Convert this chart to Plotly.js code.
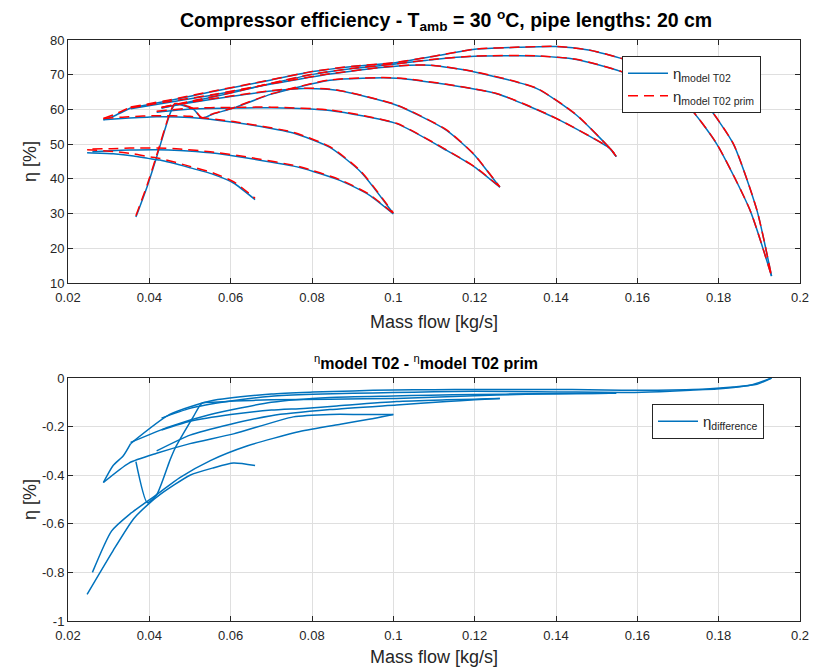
<!DOCTYPE html>
<html>
<head>
<meta charset="utf-8">
<script src="https://cdn.plot.ly/plotly-3.0.1.min.js"></script>
<style>html,body{margin:0;padding:0;background:#fff;}</style>
</head>
<body>
<div id="chart" style="width:817px;height:669px;"></div>
<script>
// ---- Data (mass flow [kg/s], efficiency [%], difference [%]) ----
const x_I   = [0.0247,0.0311,0.0361,0.0397,0.0426,0.05,0.0557,0.0607,0.066];
const eta_I = [47.5,47.2,46.6,45.9,45.4,43.2,41.3,38.8,34.0];
const pri_I = [48.4,47.9,47.2,46.4,45.9,43.6,41.7,39.2,34.4];
const dif_I = [-0.89,-0.71,-0.58,-0.52,-0.48,-0.40,-0.37,-0.35,-0.36];

const x_H   = [0.026,0.0307,0.0352,0.0418,0.0475,0.055,0.064,0.077,0.087,0.094,0.1];
const eta_H = [47.8,48.1,48.3,48.4,48.2,47.5,46.0,43.3,39.5,35.4,29.9];
const pri_H = [48.6,48.7,48.9,48.9,48.6,47.8,46.3,43.5,39.7,35.6,30.05];
const dif_H = [-0.80,-0.63,-0.56,-0.48,-0.41,-0.34,-0.28,-0.22,-0.19,-0.17,-0.15];

const x_G   = [0.0287,0.035,0.0418,0.05,0.0607,0.0754,0.0845,0.092,0.1];
const eta_G = [57.0,57.5,57.9,57.7,56.3,53.2,49.0,42.0,30.0];
const pri_G = [57.4,57.9,58.2,58.0,56.5,53.4,49.2,42.2,30.2];
const dif_G = [-0.43,-0.35,-0.31,-0.27,-0.23,-0.16,-0.15,-0.15,-0.15];

const x_K   = [0.0287,0.0311,0.0336,0.0354];
const eta_K = [57.0,58.0,59.4,60.4];
const pri_K = [57.4,58.4,59.7,60.7];
const dif_K = [-0.43,-0.36,-0.32,-0.27];

const x_A   = [0.0354,0.045,0.055,0.07,0.0802,0.09,0.1,0.11,0.12,0.131,0.14,0.148,0.156,0.165,0.172,0.177,0.1836,0.1894,0.193];
const eta_A = [60.4,62.6,65.0,68.5,70.9,72.4,73.4,75.3,77.3,77.9,78.1,77.1,74.7,71.4,66.9,61.4,50.1,31.0,12.0];
const pri_A = [60.7,62.75,65.1,68.57,70.96,72.45,73.45,75.35,77.35,77.95,78.15,77.15,74.75,71.45,66.95,61.45,50.14,31.03,12.0];
const dif_A = [-0.27,-0.15,-0.095,-0.066,-0.058,-0.053,-0.049,-0.048,-0.047,-0.047,-0.047,-0.048,-0.05,-0.05,-0.048,-0.045,-0.037,-0.026,0];

const x_B   = [0.043,0.05,0.06,0.07,0.0802,0.09,0.1,0.11,0.12,0.135,0.145,0.156,0.163,0.168,0.173,0.1795,0.1877,0.193];
const eta_B = [60.4,62.2,64.7,67.5,70.1,71.8,73.0,74.4,75.3,75.4,74.4,70.9,67.4,63.9,60.2,50.1,31.0,12.0];
const pri_B = [60.57,62.33,64.8,67.58,70.17,71.86,73.06,74.46,75.36,75.46,74.46,70.96,67.46,63.96,60.25,50.15,31.03,12.0];
const dif_B = [-0.165,-0.125,-0.095,-0.075,-0.067,-0.063,-0.06,-0.057,-0.055,-0.057,-0.058,-0.06,-0.058,-0.055,-0.05,-0.045,-0.03,0];

const x_C   = [0.0354,0.045,0.055,0.07,0.0844,0.1,0.109,0.12,0.1353,0.145,0.1533,0.1548];
const eta_C = [60.2,62.1,64.0,67.3,70.2,72.4,72.7,70.8,66.0,58.4,48.7,46.4];
const pri_C = [60.47,62.3,64.15,67.4,70.28,72.47,72.77,70.87,66.07,58.46,48.76,46.46];
const dif_C = [-0.265,-0.20,-0.15,-0.10,-0.08,-0.074,-0.071,-0.068,-0.065,-0.064,-0.063,-0.063];

const x_D   = [0.0367,0.0395,0.0418,0.0451,0.0463,0.0508,0.0529,0.0557,0.0607,0.07,0.0844,0.1008,0.1254,0.14,0.1533,0.1548];
const eta_D = [29.0,37.9,46.3,58.8,61.4,60.1,57.5,58.7,60.4,64.4,68.4,69.0,64.5,57.4,48.7,46.4];
const pri_D = [29.34,38.41,46.78,59.14,61.69,60.26,57.6,58.8,60.5,64.49,68.49,69.08,64.57,57.47,48.76,46.46];
const dif_D = [-0.344,-0.513,-0.481,-0.337,-0.29,-0.16,-0.104,-0.10,-0.095,-0.09,-0.087,-0.084,-0.07,-0.065,-0.063,-0.063];

const x_E   = [0.043,0.05,0.06,0.07,0.078,0.0861,0.1008,0.1131,0.12,0.123,0.1262];
const eta_E = [60.4,61.9,63.7,65.3,66.0,65.5,61.2,54.0,46.8,42.4,37.6];
const pri_E = [60.61,62.08,63.85,65.43,66.13,65.62,61.3,54.09,46.89,42.49,37.68];
const dif_E = [-0.214,-0.178,-0.150,-0.132,-0.125,-0.115,-0.097,-0.09,-0.087,-0.085,-0.084];

const x_F   = [0.0418,0.05,0.06,0.07,0.0844,0.1008,0.1131,0.12,0.1262];
const eta_F = [59.2,60.1,60.4,60.5,59.7,55.9,48.2,43.4,37.6];
const pri_F = [59.5,60.34,60.59,60.66,59.83,56.01,48.3,43.49,37.68];
const dif_F = [-0.30,-0.235,-0.19,-0.155,-0.13,-0.111,-0.097,-0.09,-0.084];

const xTickVals = [0.02,0.04,0.06,0.08,0.1,0.12,0.14,0.16,0.18,0.2];
const xTickText = ['0.02','0.04','0.06','0.08','0.1','0.12','0.14','0.16','0.18','0.2'];
const yTopVals = [10,20,30,40,50,60,70,80];
const yTopText = ['10','20','30','40','50','60','70','80'];
const yBotVals = [-1,-0.8,-0.6,-0.4,-0.2,0];
const yBotText = ['-1','-0.8','-0.6','-0.4','-0.2','0'];

// ---- build segmented traces ----
const curvesX   = [x_I,x_H,x_G,x_K,x_A,x_B,x_C,x_D,x_E,x_F];
const curvesEta = [eta_I,eta_H,eta_G,eta_K,eta_A,eta_B,eta_C,eta_D,eta_E,eta_F];
const curvesPri = [pri_I,pri_H,pri_G,pri_K,pri_A,pri_B,pri_C,pri_D,pri_E,pri_F];
const curvesDif = [dif_I,dif_H,dif_G,dif_K,dif_A,dif_B,dif_C,dif_D,dif_E,dif_F];
function join(list){
  const out=[];
  list.forEach((a,i)=>{ if(i>0) out.push(null); a.forEach(v=>out.push(v)); });
  return out;
}
const X = join(curvesX);

const BLUE='#0072BD', RED='#FF0000', AX='#262626', GRID='#dfdfdf';
const traces = [
  {x:X, y:join(curvesEta), xaxis:'x', yaxis:'y', mode:'lines', connectgaps:false,
   name:'η<sub>model T02</sub>', line:{color:BLUE,width:1.5,shape:'spline',smoothing:0.6}, legend:'legend'},
  {x:X, y:join(curvesPri), xaxis:'x', yaxis:'y', mode:'lines', connectgaps:false,
   name:'η<sub>model T02 prim</sub>', line:{color:RED,width:1.5,dash:'10px,6px',shape:'spline',smoothing:0.6}, legend:'legend'},
  {x:X, y:join(curvesDif), xaxis:'x2', yaxis:'y2', mode:'lines', connectgaps:false,
   name:'η<sub>difference</sub>', line:{color:BLUE,width:1.5,shape:'spline',smoothing:0.6}, legend:'legend2'}
];

function xax(anchor){
  return {domain:[68/817,800/817], range:[0.02,0.2], anchor:anchor, tickvals:xTickVals, ticktext:xTickText,
    ticks:'inside', ticklen:5, tickcolor:AX, tickwidth:1, showline:true, linecolor:AX, linewidth:1, mirror:'ticks',
    showgrid:true, gridcolor:GRID, gridwidth:1, zeroline:false, automargin:false, ticklabelstandoff:2,
    tickfont:{size:13,color:AX}};
}
function yax(anchor,dom,range,vals,text){
  return {domain:dom, range:range, anchor:anchor, tickvals:vals, ticktext:text,
    ticks:'inside', ticklen:5, tickcolor:AX, tickwidth:1, showline:true, linecolor:AX, linewidth:1, mirror:'ticks',
    showgrid:true, gridcolor:GRID, gridwidth:1, zeroline:false, automargin:false,
    tickfont:{size:13,color:AX}};
}

const layout = {
  width:817, height:669, margin:{l:0,r:0,t:0,b:0},
  paper_bgcolor:'#ffffff', plot_bgcolor:'#ffffff',
  font:{family:'"Liberation Sans", Arial, Helvetica, sans-serif', size:13, color:AX},
  xaxis: xax('y'),
  yaxis: yax('x',[1-283/669,1-40/669],[10,80],yTopVals,yTopText),
  xaxis2: xax('y2'),
  yaxis2: yax('x2',[1-621/669,1-378/669],[-1,0],yBotVals,yBotText),
  showlegend:true,
  legend:{x:622/817, y:1-56/669, xanchor:'left', yanchor:'top', bgcolor:'#ffffff',
          bordercolor:AX, borderwidth:1, font:{size:15,color:AX}, tracegroupgap:0, itemwidth:40},
  legend2:{x:652/817, y:1-404/669, xanchor:'left', yanchor:'top', bgcolor:'#ffffff',
          bordercolor:AX, borderwidth:1, font:{size:15,color:AX}, itemwidth:40},
  annotations:[
    {text:'<b>Compressor efficiency - T<sub>amb</sub> = 30 <sup>o</sup>C, pipe lengths: 20 cm</b>',
     xref:'paper', yref:'paper', x:446/817, y:1-20/669, xanchor:'center', yanchor:'middle', showarrow:false,
     font:{size:19.5,color:'#000'}},
    {text:'<sup>η</sup><b>model T02</b><b> - </b><sup>η</sup><b>model T02 prim</b>',
     xref:'paper', yref:'paper', x:426/817, y:1-362/669, xanchor:'center', yanchor:'middle', showarrow:false,
     font:{size:16,color:'#000'}},
    {text:'Mass flow [kg/s]', xref:'paper', yref:'paper', x:434/817, y:1-322/669, xanchor:'center', yanchor:'middle',
     showarrow:false, font:{size:18,color:AX}},
    {text:'Mass flow [kg/s]', xref:'paper', yref:'paper', x:434/817, y:1-657/669, xanchor:'center', yanchor:'middle',
     showarrow:false, font:{size:18,color:AX}},
    {text:'η [%]', xref:'paper', yref:'paper', x:30/817, y:1-162/669, xanchor:'center', yanchor:'middle',
     textangle:-90, showarrow:false, font:{size:18,color:AX}},
    {text:'η [%]', xref:'paper', yref:'paper', x:30/817, y:1-500/669, xanchor:'center', yanchor:'middle',
     textangle:-90, showarrow:false, font:{size:18,color:AX}}
  ]
};

Plotly.newPlot('chart', traces, layout, {staticPlot:true, displayModeBar:false});
</script>
</body>
</html>
